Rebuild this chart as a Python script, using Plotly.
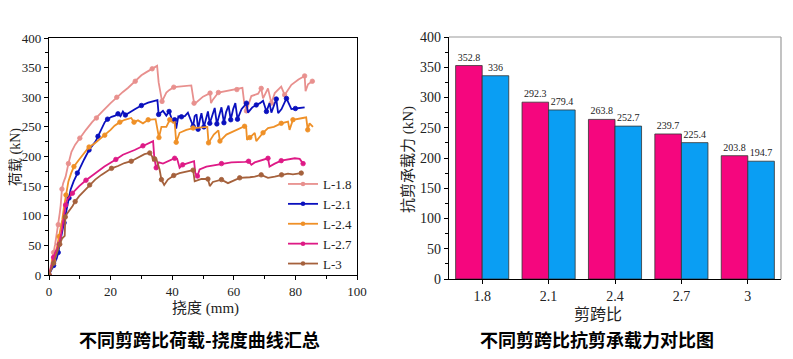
import plotly.graph_objects as go

# page body has an 8px default margin, so the figure is sized to fit the 793x359 window
OFF = 8
W, H = 793 - OFF, 359 - OFF


def px_x(px):
    return (px - OFF) / W


def px_y(py):
    return 1 - (py - OFF) / H


# ---------------- left chart: load-deflection curves ----------------
l18_x = [0, 0.5, 1, 1.5, 2, 2.5, 3, 3.5, 3.8, 4.2, 4.6, 5.4, 6.3, 7.3, 8.5, 10, 12, 14, 15.4, 17.5, 20, 22, 24, 25.7,
         28, 30, 31.5, 33.5, 35.1, 35.6, 36.7, 38.1, 39, 40.5, 43, 46.2, 47.1, 48, 50, 52.3, 52.6, 53.2, 55, 57, 59.2,
         61, 62.8, 63.4, 64.1, 65.7, 67.9, 68.9, 69.5, 71.1, 72.2, 73.3, 75.4, 76.5, 78.7, 81, 83, 83.3, 84.1, 85.5]
l18_y = [0, 12, 22, 38, 52, 68, 85, 105, 118, 145, 155, 166, 188, 208, 220, 231, 245, 258, 265, 277, 290, 300, 309, 316,
         327, 337, 342, 348, 353, 325, 293, 308, 312, 317, 318, 320, 290, 292, 301, 307, 290, 296, 308, 310, 312,
         313, 316, 290, 277, 302, 306, 315, 298, 315, 290, 307, 318, 304, 321, 330, 336, 310, 322, 327]

l21_x = [0, 0.5, 1, 1.5, 2, 2.5, 3, 3.8, 4.4, 4.9, 5.4, 5.9, 6.5, 7, 8, 9.2, 10.3, 11.4, 13, 14.2, 15.2, 15.9, 17, 18.1,
         19, 20.3, 21.5, 22.4, 23.2, 24, 24.8, 26.2, 28, 30, 32.2, 35.2, 35.6, 37, 38.1, 39, 39.7, 40.3, 40.8, 41.3,
         42, 43, 44.1, 45.1, 46.8, 47.3, 47.9, 48.4, 49, 49.5, 50.3, 51, 51.6, 52.2, 53, 53.8, 54.5, 55.3, 56, 56.8,
         57.5, 58.3, 59, 59.8, 60.5, 61.2, 62.5, 63.5, 64.1, 64.6, 66, 67.3, 68.5, 69.5, 70.6, 71.6, 72.2, 73.8, 74.4,
         75.5, 77.1, 77.8, 78.7, 80, 83]
l21_y = [0, 5, 10, 16, 22, 28, 38, 60, 75, 88, 100, 116, 130, 144, 158, 172, 185, 195, 211, 220, 226, 234, 245, 258,
         263, 267, 269, 272, 268, 276, 270, 275, 280, 286, 291, 295, 271, 277, 269, 276, 265, 257, 262, 247,
         268, 267, 268, 274, 251, 268, 271, 246, 262, 273, 250, 266, 276, 256, 270, 282, 255, 272, 283, 257,
         275, 286, 262, 280, 290, 263, 280, 286, 290, 274, 283, 287, 290, 294, 276, 290, 274, 297, 273,
         280, 298, 290, 280, 281, 283]

l24_x = [0, 0.5, 1, 1.5, 2, 2.5, 3.3, 4.3, 4.9, 5.5, 6.3, 7.2, 8.1, 9.8, 11.5, 13, 14.8, 16.2, 18.1, 20, 21.3, 23, 24.6,
         26.7, 27.6, 28.9, 30.5, 32.2, 34.6, 35.2, 35.7, 36.5, 38.1, 39.2, 40.3, 40.8, 41.3, 42.4, 44.6, 46.8, 50.5,
         51.4, 51.8, 53.5, 55, 55.5, 57.6, 60.8, 63.5, 64, 64.3, 65.2, 66.8, 67.3, 69.5, 71.1, 73, 75.4, 77.6, 78.1,
         79.2, 82.4, 83.5, 84, 84.6, 85.7]
l24_y = [0, 8, 16, 25, 35, 45, 65, 93, 116, 135, 158, 172, 183, 195, 207, 216, 222, 228, 236, 245, 252, 258, 262,
         265, 258, 261, 256, 262, 263, 245, 232, 250, 250, 262, 257, 258, 224, 240, 245, 248, 249,
         250, 223, 237, 244, 226, 237, 245, 251, 250, 228, 232, 240, 226, 240, 248, 250, 256, 259, 245,
         262, 265, 266, 245, 256, 250]

l27_x = [0, 0.5, 1, 1.5, 2, 2.7, 3.3, 4.2, 4.9, 5.4, 5.9, 6.8, 7.6, 8.7, 9.8, 12, 15.2, 18, 21.7, 24, 27.8, 30.5, 33.8,
         34.2, 34.8, 35.7, 37, 40.8, 41.6, 42.4, 43.4, 47.1, 47.5, 48.2, 48.9, 51.1, 56, 59.2, 63.6, 64.8, 65.7,
         66.8, 71.1, 71.6, 73.3, 75.4, 79.8, 81.4, 82.5]
l27_y = [0, 10, 20, 30, 38, 45, 52, 76, 105, 118, 127, 134, 138, 144, 150, 160, 172, 183, 195, 203, 211, 218, 226,
         197, 181, 190, 188, 197, 196, 181, 186, 192, 172, 167, 178, 183, 188, 190, 191, 192, 186,
         190, 197, 183, 188, 193, 197, 196, 188]

l3_x = [0, 0.5, 1, 1.5, 2, 2.7, 3.5, 4.3, 5.1, 5.3, 5.9, 7.6, 8.5, 9.8, 11.5, 13.2, 15, 17, 20.3, 22.4, 24.5, 26.7, 28,
        31, 32.7, 33.5, 33.8, 34.3, 34.9, 35.9, 36.5, 37.4, 38.6, 40.5, 42.4, 44.6, 46.8, 47.3, 49.5, 51.6, 52.2,
        53.2, 56, 58.1, 60.3, 61.9, 65.2, 66.8, 68.9, 71.1, 73.3, 75.5, 77.6, 79.2, 81.9]
l3_y = [0, 6, 12, 20, 28, 40, 52, 62, 66, 98, 104, 116, 124, 133, 142, 152, 161, 169, 180, 184, 189, 192, 196,
        204, 206, 200, 192, 196, 195, 178, 161, 152, 161, 168, 172, 175, 177, 158, 162, 162, 150,
        157, 161, 155, 161, 164, 165, 166, 169, 164, 166, 169, 171, 170, 172]

curve_names = ["L-1.8", "L-2.1", "L-2.4", "L-2.7", "L-3"]
curve_x = [l18_x, l21_x, l24_x, l27_x, l3_x]
curve_y = [l18_y, l21_y, l24_y, l27_y, l3_y]

x_ticks_left = [0, 20, 40, 60, 80, 100]
y_ticks = [0, 50, 100, 150, 200, 250, 300, 350, 400]

# ---------------- right chart: shear capacity comparison ----------------
ratios = ["1.8", "2.1", "2.4", "2.7", "3"]
cap_test = [352.8, 292.3, 263.8, 239.7, 203.8]
cap_calc = [336, 279.4, 252.7, 225.4, 194.7]

# ---------------- styling ----------------
curve_colors = ["#E8908E", "#0A10BE", "#EF9027", "#DE1A86", "#A5613C"]
bar_colors = ["#F5067E", "#0A9EF3"]
SERIF = "Liberation Serif, Noto Sans CJK SC"
CJK_BOLD = "Noto Sans CJK SC"

fig = go.Figure()

for name, xs, ys, c in zip(curve_names, curve_x, curve_y, curve_colors):
    fig.add_trace(go.Scatter(x=xs, y=ys, mode="lines", line=dict(color=c, width=1.8),
                             showlegend=False, xaxis="x", yaxis="y", hoverinfo="skip"))
    fig.add_trace(go.Scatter(x=xs[::3], y=ys[::3], mode="markers",
                             marker=dict(color=c, size=4.5, symbol="circle",
                                         line=dict(color=c, width=0.8)),
                             showlegend=False, xaxis="x", yaxis="y"))
    # legend entry
    fig.add_trace(go.Scatter(x=[None], y=[None], mode="lines+markers", name=name,
                             line=dict(color=c, width=1.8),
                             marker=dict(color=c, size=4.5), xaxis="x", yaxis="y"))

for vals, col, nm in [(cap_test, bar_colors[0], "试验值"), (cap_calc, bar_colors[1], "计算值")]:
    fig.add_trace(go.Bar(x=ratios, y=vals, name=nm,
                         marker=dict(color=col, line=dict(color="#333333", width=0.8)),
                         text=[str(v) for v in vals], textposition="outside", cliponaxis=False,
                         textfont=dict(family=SERIF, size=10, color="#222"), showlegend=False,
                         xaxis="x2", yaxis="y2"))

axis_common = dict(showline=True, linecolor="black", linewidth=1.2, ticks="outside", tickcolor="black",
                   ticklen=4, tickwidth=1, showgrid=False, zeroline=False, automargin=False,
                   tickfont=dict(family=SERIF, size=13, color="#222"))


def axis_title(text, x, y, size=15, angle=0):
    return dict(text=text, xref="paper", yref="paper", x=px_x(x), y=px_y(y), xanchor="center",
                yanchor="middle", textangle=angle, showarrow=False,
                font=dict(family=SERIF, size=size, color="#222"))


fig.update_layout(
    width=W, height=H, margin=dict(l=0, r=0, t=0, b=0, autoexpand=False),
    paper_bgcolor="white", plot_bgcolor="white",
    barmode="group", bargap=0.2, bargroupgap=0,
    xaxis=dict(domain=[px_x(49), px_x(357)], range=[0, 100], tickvals=x_ticks_left, mirror=True,
               minor=dict(dtick=10, ticklen=3, ticks="outside", tickcolor="black"),
               anchor="y", **axis_common),
    yaxis=dict(domain=[px_y(275), px_y(38)], range=[0, 400], tickvals=y_ticks, mirror=True,
               minor=dict(dtick=25, ticklen=3, ticks="outside", tickcolor="black"),
               anchor="x", **axis_common),
    xaxis2=dict(domain=[px_x(449), px_x(781)], range=[-0.5, 4.5], type="category",
                anchor="y2", **{**axis_common, "tickfont": dict(family=SERIF, size=14, color="#222")}),
    yaxis2=dict(domain=[px_y(279), px_y(37)], range=[0, 400], tickvals=y_ticks,
                minor=dict(dtick=25, ticklen=3, ticks="outside", tickcolor="black"),
                anchor="x2", **{**axis_common, "tickfont": dict(family=SERIF, size=14, color="#222")}),
    legend=dict(x=px_x(283), xanchor="left", y=px_y(279), yanchor="bottom",
                bgcolor="rgba(0,0,0,0)", font=dict(family=SERIF, size=13, color="#222"),
                itemwidth=30, tracegroupgap=0),
    shapes=[
        dict(type="line", xref="x2 domain", yref="y2 domain", x0=0, x1=1, y0=1, y1=1,
             line=dict(color="#9a9a9a", width=1.2)),
        dict(type="line", xref="x2 domain", yref="y2 domain", x0=1, x1=1, y0=0, y1=1,
             line=dict(color="#9a9a9a", width=1.2)),
    ],
    annotations=[
        axis_title("挠度 (mm)", 205, 308),
        axis_title("荷载 (kN)", 16, 157, size=14, angle=-90),
        axis_title("剪跨比", 598, 314, size=16),
        axis_title("抗剪承载力 (kN)", 409, 160, angle=-90),
        dict(text="<b>不同剪跨比荷载-挠度曲线汇总</b>", xref="paper", yref="paper", x=px_x(199), y=px_y(339),
             xanchor="center", yanchor="middle",
             showarrow=False, font=dict(family=CJK_BOLD, size=18, color="black")),
        dict(text="<b>不同剪跨比抗剪承载力对比图</b>", xref="paper", yref="paper", x=px_x(597), y=px_y(339),
             xanchor="center", yanchor="middle",
             showarrow=False, font=dict(family=CJK_BOLD, size=18, color="black")),
    ],
)

fig.write_html("out.html")
